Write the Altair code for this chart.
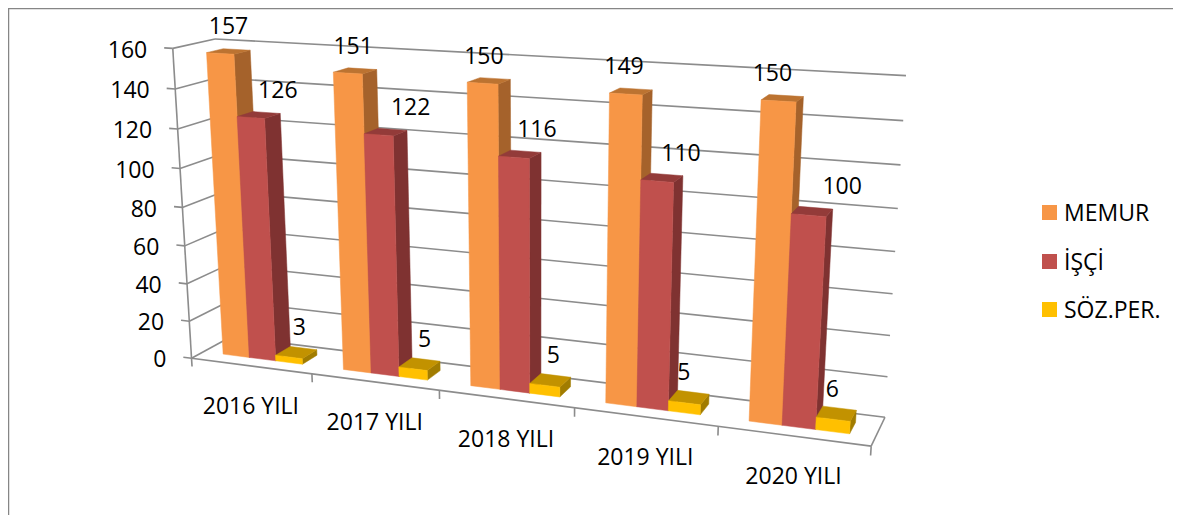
import altair as alt
import numpy as np
import pandas as pd

# ---- values
YEARS = ["2016 YILI", "2017 YILI", "2018 YILI", "2019 YILI", "2020 YILI"]
SERIES = ["MEMUR", "İŞÇİ", "SÖZ.PER."]
MEMUR = [157, 151, 150, 149, 150]
ISCI = [126, 122, 116, 110, 100]
SOZPER = [3, 5, 5, 5, 6]
VALUES = [MEMUR, ISCI, SOZPER]
Y_TICKS = [0, 20, 40, 60, 80, 100, 120, 140, 160]

# ---- styling
FRONT = ["#F79646", "#C0504D", "#FFC000"]
SIDE = ["#A5622B", "#7F3231", "#A17C00"]
TOP = ["#BC7331", "#933B39", "#C29200"]
GRID = "#8C8C8C"
FONT = "Open Sans"
FS = 23
W, H = 1165, 507
OX, OY = 8, 8
BAR_U0, BAR_DU = 0.167, 0.222
BAR_W0, BAR_W1 = 0.3, 0.7
LABEL_DX = [[0, 19, 3], [-2, 25, 5], [-5, 17, 3], [-7, 19, -5], [-10, 30, -4]]
LABEL_DY = -24

# ---- perspective camera, calibrated on box corners: (u, depth, value) -> page pixel
CAL = [
    (0, 0, 0, 192, 358), (0, 0, 160, 173, 49), (0, 1, 160, 215, 38), (0, 1, 0, 231, 338),
    (5, 1, 160, 906, 76), (5, 1, 0, 885, 416), (5, 0, 0, 872, 446), (1, 0, 0, 312, 373.5),
    (2, 0, 0, 439, 390), (3, 0, 0, 574, 408), (4, 0, 0, 718, 427), (5, 1, 80, 895, 252),
    (0, 0, 80, 182, 207),
]
A, b = [], []
for u, w, v, x, y in CAL:
    A.append([u, w, v, 1, 0, 0, 0, 0, -x * u, -x * w, -x * v]); b.append(x)
    A.append([0, 0, 0, 0, u, w, v, 1, -y * u, -y * w, -y * v]); b.append(y)
p = np.linalg.lstsq(np.array(A, float), np.array(b, float), rcond=None)[0]
P = np.append(p, 1.0).reshape(3, 4)


def proj(u, w, v):
    q = P @ np.array([u, w, v, 1.0])
    return float(q[0] / q[2]), float(q[1] / q[2])


lines, texts, poly_rows = [], [], []


def add_poly(pts, color, _n=[0]):
    _n[0] += 1
    for i, pt in enumerate(pts + pts[:1]):
        x, y = proj(*pt)
        poly_rows.append({"pid": _n[0], "i": i, "x": x, "y": y, "c": color})


def add_line(a, b_, _n=[0]):
    _n[0] += 1
    for i, pt in enumerate((a, b_)):
        x, y = proj(*pt)
        lines.append({"lid": _n[0], "i": i, "x": x, "y": y})


# walls
for t in Y_TICKS:
    add_line((-0.07, 0, t), (0, 0, t))
    add_line((0, 0, t), (0, 1, t))
    add_line((0, 1, t), (5, 1, t))
add_line((0, 0, 0), (0, 0, 160))
add_line((0, 0, 0), (5, 0, 0))
add_line((5, 0, 0), (5, 1, 0))
for k in range(6):
    add_line((k, 0, 0), (k, 0, -4.5))

# bars, painted left to right
for c, year in enumerate(YEARS):
    for s, vals in enumerate(VALUES):
        v = vals[c]
        u0 = c + BAR_U0 + s * BAR_DU
        u1 = u0 + BAR_DU
        w0, w1 = BAR_W0, BAR_W1
        add_poly([(u1, w0, 0), (u1, w1, 0), (u1, w1, v), (u1, w0, v)], SIDE[s])
        add_poly([(u0, w0, v), (u1, w0, v), (u1, w1, v), (u0, w1, v)], TOP[s])
        add_poly([(u0, w0, 0), (u1, w0, 0), (u1, w0, v), (u0, w0, v)], FRONT[s])
        x, y = proj((u0 + u1) / 2, 0.5, v)
        texts.append({"x": x + LABEL_DX[c][s], "y": y + LABEL_DY, "t": str(v)})

ticks_txt = []
for t in Y_TICKS:
    x, y = proj(-0.07, 0, t)
    ticks_txt.append({"x": x - 17, "y": y + 3, "t": str(t)})
for c, year in enumerate(YEARS):
    x, y = proj(c + 0.5, 0, 0)
    texts.append({"x": x, "y": y + 41, "t": year})

xs = alt.X("x:Q", scale=alt.Scale(domain=[OX, OX + W], nice=False, zero=False), axis=None)
ys = alt.Y("y:Q", scale=alt.Scale(domain=[OY + H, OY], nice=False, zero=False), axis=None)

frame = (
    alt.Chart(pd.DataFrame([
        {"lid": 1, "i": 0, "x": OX + 0.5, "y": OY + H}, {"lid": 1, "i": 1, "x": OX + 0.5, "y": OY + 0.5},
        {"lid": 1, "i": 2, "x": OX + W, "y": OY + 0.5},
    ])).mark_line(color="#868686", strokeWidth=1.5).encode(x=xs, y=ys, detail="lid:N", order="i:Q")
)
grid = (
    alt.Chart(pd.DataFrame(lines)).mark_line(color=GRID, strokeWidth=1.6)
    .encode(x=xs, y=ys, detail="lid:N", order="i:Q")
)
faces = (
    alt.Chart(pd.DataFrame(poly_rows)).mark_line(strokeWidth=0.5, filled=True)
    .encode(x=xs, y=ys, detail="pid:N", order="i:Q",
            fill=alt.Fill("c:N", scale=None, legend=None), stroke=alt.Stroke("c:N", scale=None, legend=None))
)
labels = (
    alt.Chart(pd.DataFrame(texts)).mark_text(font=FONT, fontSize=FS, color="#000000", align="center", baseline="middle")
    .encode(x=xs, y=ys, text="t:N")
)
ylabels = (
    alt.Chart(pd.DataFrame(ticks_txt)).mark_text(font=FONT, fontSize=FS, color="#000000", align="right", baseline="middle")
    .encode(x=xs, y=ys, text="t:N")
)
leg_df = pd.DataFrame({
    "name": SERIES, "c": FRONT, "x": [1049.5] * 3, "tx": [1064] * 3, "y": [212.5, 261.5, 309.5],
    "ty": [214, 263, 311],
})
leg_sw = (
    alt.Chart(leg_df).mark_square(size=225, opacity=1, filled=True)
    .encode(x=xs, y=ys, color=alt.Color("c:N", scale=None, legend=None))
)
leg_tx = (
    alt.Chart(leg_df).mark_text(font=FONT, fontSize=FS, color="#000000", align="left", baseline="middle")
    .encode(x=alt.X("tx:Q", scale=alt.Scale(domain=[OX, OX + W], nice=False, zero=False), axis=None),
            y=alt.Y("ty:Q", scale=alt.Scale(domain=[OY + H, OY], nice=False, zero=False), axis=None), text="name:N")
)

chart = (
    alt.layer(frame, grid, faces, labels, ylabels, leg_sw, leg_tx)
    .properties(width=W, height=H, padding=0, autosize=alt.AutoSizeParams(type="none"), background="white")
    .configure_view(stroke=None)
)
chart.save("out.html", embed_options={"renderer": "svg", "actions": False})
